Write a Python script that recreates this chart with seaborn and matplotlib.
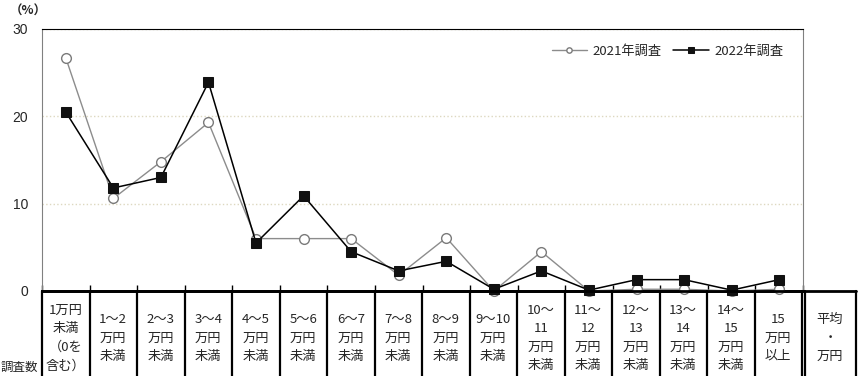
import pandas as pd
import matplotlib
matplotlib.use('Agg')
import matplotlib.pyplot as plt
import seaborn as sns

# categories (income brackets) and survey values (%)
categories = ['1万円\n未満\n（0を\n含む）', '1～2\n万円\n未満', '2～3\n万円\n未満', '3～4\n万円\n未満',
              '4～5\n万円\n未満', '5～6\n万円\n未満', '6～7\n万円\n未満', '7～8\n万円\n未満',
              '8～9\n万円\n未満', '9～10\n万円\n未満', '10～\n11\n万円\n未満', '11～\n12\n万円\n未満',
              '12～\n13\n万円\n未満', '13～\n14\n万円\n未満', '14～\n15\n万円\n未満', '15\n万円\n以上']
y2021 = [26.7, 10.6, 14.8, 19.3, 6.0, 6.0, 6.0, 1.8, 6.1, 0.0, 4.5, 0.0, 0.2, 0.2, 0.0, 0.2]
y2022 = [20.5, 11.8, 13.0, 23.9, 5.5, 10.9, 4.5, 2.3, 3.4, 0.2, 2.3, 0.1, 1.3, 1.3, 0.1, 1.3]
series_names = ['2021年調査', '2022年調査']
extra_col = '平均\n・\n万円'
yticks = [0, 10, 20, 30]

df = pd.DataFrame({'idx': range(len(categories)), 'y2021': y2021, 'y2022': y2022})

sns.set_style('white')
plt.rcParams['font.family'] = ['Noto Sans CJK JP', 'DejaVu Sans']

W, H = 863, 376
fig = plt.figure(figsize=(W / 100, H / 100), dpi=100)
x0, x1, ytop, ybot = 42, 803, 29, 291
ax = fig.add_axes([x0 / W, 1 - ybot / H, (x1 - x0) / W, (ybot - ytop) / H])

sns.lineplot(data=df, x='idx', y='y2021', ax=ax, color='#8c8c8c', linewidth=1.0,
             marker='o', markersize=7, markerfacecolor='white', markeredgecolor='#7a7a7a',
             markeredgewidth=1.0, label=series_names[0], clip_on=False, zorder=3)
sns.lineplot(data=df, x='idx', y='y2022', ax=ax, color='black', linewidth=1.1,
             marker='s', markersize=7.5, markerfacecolor='#111111', markeredgecolor='#111111',
             label=series_names[1], clip_on=False, zorder=4)

n = len(categories)
ax.set_xlim(-0.5, n - 0.5)
ax.set_ylim(0, 30)
ax.set_yticks(yticks)
ax.set_yticklabels([str(t) for t in yticks], fontsize=10, family='Liberation Sans')
ax.set_xticks([i - 0.5 for i in range(n + 1)])
ax.set_xticklabels([])
ax.tick_params(axis='x', direction='in', length=4, width=1, color='black', bottom=True)
ax.tick_params(axis='y', length=0, pad=10)
ax.set_xlabel('')
ax.set_ylabel('')
ax.grid(axis='y', linestyle=':', color='#ddd8c0', linewidth=1)
ax.grid(axis='x', visible=False)
ax.spines['left'].set_color('#808080')
ax.spines['right'].set_color('#808080')
ax.spines['top'].set_color('black')
ax.spines['top'].set_linewidth(0.8)
ax.spines['bottom'].set_color('black')
ax.spines['bottom'].set_linewidth(2)

ax.legend(loc='upper right', bbox_to_anchor=(0.99, 0.985), ncol=2, frameon=False, fontsize=9.5,
          handlelength=2.7, columnspacing=0.9, handletextpad=0.4, markerscale=0.55)

fig.text(10 / W, 1 - 11 / H, '（%）', fontsize=9, va='center', ha='left', fontweight='bold')

# table under the chart
def fx(x):
    return x / W

def fy(y):
    return 1 - y / H

cw = (x1 - 1 - x0) / n
bounds = [x0 + i * cw for i in range(n + 1)]
for b in bounds:
    fig.add_artist(plt.Line2D([fx(b), fx(b)], [fy(ybot), fy(H + 2)], color='black', lw=1.6,
                              transform=fig.transFigure))
for b in [805, 856]:
    fig.add_artist(plt.Line2D([fx(b), fx(b)], [fy(ybot), fy(H + 2)], color='black', lw=1.6,
                              transform=fig.transFigure))
fig.add_artist(plt.Line2D([fx(x0), fx(856)], [fy(ybot), fy(ybot)], color='black', lw=2,
                          transform=fig.transFigure))

for i, lab in enumerate(categories):
    fig.text(fx(x0 + (i + 0.5) * cw), fy(338), lab, ha='center', va='center',
             fontsize=9.5, linespacing=1.55)
fig.text(fx(830), fy(338), extra_col, ha='center', va='center', fontsize=9.5, linespacing=1.55)
fig.text(fx(1), fy(367), '調査数', ha='left', va='center', fontsize=9)

fig.savefig('out.png', dpi=100)
